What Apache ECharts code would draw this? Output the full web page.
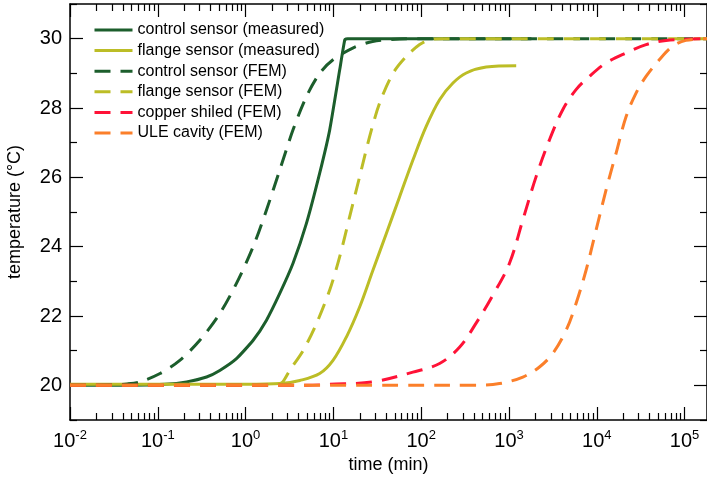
<!DOCTYPE html>
<html>
<head>
<meta charset="utf-8">
<script src="https://cdn.jsdelivr.net/npm/echarts@6/dist/echarts.min.js"></script>
<style>
  html, body { margin: 0; padding: 0; background: #fff; }
  #chart { width: 707px; height: 477px; }
</style>
</head>
<body>
<div id="chart"></div>
<script>
// Warm-up of the cavity assembly: temperature (°C) against time (min)
const controlMeasured = [[0.01,20.0],[0.05,20.0],[0.12,20.03],[0.213,20.1],[0.359,20.24],[0.508,20.43],[0.787,20.77],[1.22,21.3],[1.73,21.88],[2.45,22.65],[3.47,23.52],[4.93,24.67],[6.98,26.12],[9.08,27.37],[11.8,29.1],[13.5,29.97],[14.5,30.0],[1800,30.0]];
const flangeMeasured = [[0.01,20.03],[1.0,20.03],[2.5,20.05],[4.14,20.14],[6.98,20.34],[9.9,20.72],[14.1,21.4],[19.9,22.26],[28.2,23.32],[40.1,24.38],[56.8,25.44],[80.5,26.5],[114,27.47],[162,28.24],[230,28.72],[326,29.01],[550,29.18],[1208,29.22]];
const controlFem = [[0.01,20.0],[0.03,20.01],[0.045,20.04],[0.0625,20.1],[0.106,20.34],[0.178,20.72],[0.301,21.3],[0.508,22.07],[0.787,22.94],[1.22,24.0],[1.73,25.06],[2.45,26.21],[3.47,27.37],[4.93,28.33],[6.98,29.0],[9.9,29.39],[16.6,29.73],[28,29.92],[57,29.99],[100,30.0],[180000,30.0]];
const flangeFem = [[0.01,20.0],[2.0,20.0],[2.4,20.04],[2.65,20.1],[3.18,20.43],[4.51,21.0],[6.41,21.78],[9.08,22.75],[11.8,23.71],[15.3,24.86],[19.9,26.02],[25.9,27.18],[33.6,28.14],[47.7,29.0],[67.7,29.49],[96,29.83],[125,29.97],[180,30.0],[180000,30.0]];
const copperFem = [[0.01,20.0],[5,20.0],[9.08,20.03],[28.2,20.1],[80.5,20.38],[162,20.63],[273,21.1],[424,21.8],[655,22.6],[1013,23.52],[1437,24.77],[2037,26.02],[2889,27.08],[4096,27.95],[5804,28.53],[8240,28.91],[12760,29.3],[21540,29.59],[36370,29.83],[61400,29.95],[122500,29.99],[180000,30.0]];
const uleFem = [[0.01,20.0],[100,20.0],[400,20.0],[780,20.05],[1437,20.24],[2223,20.53],[3150,20.92],[4477,21.59],[5804,22.36],[7550,23.32],[9817,24.48],[12760,25.64],[16600,26.7],[21540,27.75],[28000,28.43],[36370,28.91],[51520,29.39],[73100,29.78],[103700,29.95],[180000,30.0]];

const seriesNames = ['control sensor (measured)','flange sensor (measured)','control sensor (FEM)','flange sensor (FEM)','copper shiled (FEM)','ULE cavity (FEM)'];

// Tick positions
const xMajor = [0.01,0.1,1,10,100,1000,10000,100000];
const xMinor = [];
xMajor.forEach(d => { for (let k = 2; k <= 9; k++) { const v = +(d*k).toPrecision(3); if (v <= 180000) xMinor.push(v); } });
const yMajor = [20,22,24,26,28,30];
const yMinor = [19,21,23,25,27,29,31];

const FONT = '"Liberation Sans", Arial, sans-serif';
const INK = '#000';
const X_MIN = 0.01, X_MAX = 180000, Y_MIN = 19, Y_MAX = 31;

function xAxisDef(pos, ticks, len, showLine) {
  return {
    type: 'log', logBase: 10, min: X_MIN, max: X_MAX, position: pos,
    axisLine: { show: showLine, onZero: false, lineStyle: { color: INK, width: 1.5 } },
    axisTick: { show: true, inside: true, length: len, customValues: ticks, lineStyle: { color: INK, width: 1.2 } },
    axisLabel: { show: false },
    splitLine: { show: false }, minorTick: { show: false }, minorSplitLine: { show: false }
  };
}
function yAxisDef(pos, ticks, len, showLine) {
  return {
    type: 'value', min: Y_MIN, max: Y_MAX, position: pos,
    axisLine: { show: showLine, onZero: false, lineStyle: { color: INK, width: 1.5 } },
    axisTick: { show: true, inside: true, length: len, customValues: ticks, lineStyle: { color: INK, width: 1.2 } },
    axisLabel: { show: false },
    splitLine: { show: false }
  };
}

const xMain = xAxisDef('bottom', xMajor, 13, true);
xMain.axisLabel = {
  show: true, customValues: xMajor, margin: 9,
  formatter: v => '{b|10}{s|' + Math.round(Math.log10(v)) + '}',
  rich: {
    b: { fontFamily: FONT, fontSize: 20, color: INK, lineHeight: 22, verticalAlign: 'bottom' },
    s: { fontFamily: FONT, fontSize: 13, color: INK, lineHeight: 22, verticalAlign: 'top' }
  }
};
xMain.name = 'time (min)';
xMain.nameLocation = 'middle';
xMain.nameGap = 35;
xMain.nameTextStyle = { fontFamily: FONT, fontSize: 18, color: INK, verticalAlign: 'top' };

const yMain = yAxisDef('left', yMajor, 13, true);
yMain.axisLabel = { show: true, customValues: yMajor, margin: 8, fontFamily: FONT, fontSize: 20, color: INK };
yMain.name = 'temperature (°C)';
yMain.nameLocation = 'middle';
yMain.nameGap = 46;
yMain.nameTextStyle = { fontFamily: FONT, fontSize: 18, color: INK };

const colors = ['#1c5e2c', '#bcbd26', '#1c5e2c', '#bcbd26', '#ff1237', '#fb7f2a'];
const dataSets = [controlMeasured, flangeMeasured, controlFem, flangeFem, copperFem, uleFem];
const dashed = [false, false, true, true, true, true];
const smoothing = [0.15, 0.35, 0.3, 0.3, 0.35, 0.35];

const series = dataSets.map((d, i) => ({
  name: seriesNames[i],
  type: 'line',
  data: d,
  xAxisIndex: 0, yAxisIndex: 0,
  showSymbol: false, symbol: 'none',
  smooth: smoothing[i],
  clip: true,
  color: colors[i],
  lineStyle: { color: colors[i], width: 3, type: dashed[i] ? [16, 10] : 'solid', cap: 'butt', join: 'round' },
  emphasis: { disabled: true },
  z: 2 + i
}));

const chart = echarts.init(document.getElementById('chart'), null, { renderer: 'canvas' });
chart.setOption({
  animation: false,
  backgroundColor: '#fff',
  grid: { left: 70, right: 0, top: 4, bottom: 57, containLabel: false, outerBoundsMode: 'none' },
  legend: {
    orient: 'vertical', left: 93, top: 22, padding: 0,
    itemWidth: 38, itemHeight: 15, itemGap: 4.6,
    itemStyle: { opacity: 0, borderWidth: 0 },
    lineStyle: { width: 3 },
    textStyle: { fontFamily: FONT, fontSize: 16, color: INK, lineHeight: 15 },
    data: seriesNames, selectedMode: false
  },
  xAxis: [
    xMain,
    xAxisDef('bottom', xMinor, 7, false),
    xAxisDef('top', xMajor, 13, true),
    xAxisDef('top', xMinor, 7, false)
  ],
  yAxis: [
    yMain,
    yAxisDef('left', yMinor, 7, false),
    yAxisDef('right', yMajor, 13, true),
    yAxisDef('right', yMinor, 7, false)
  ],
  series: series
});
</script>
</body>
</html>
